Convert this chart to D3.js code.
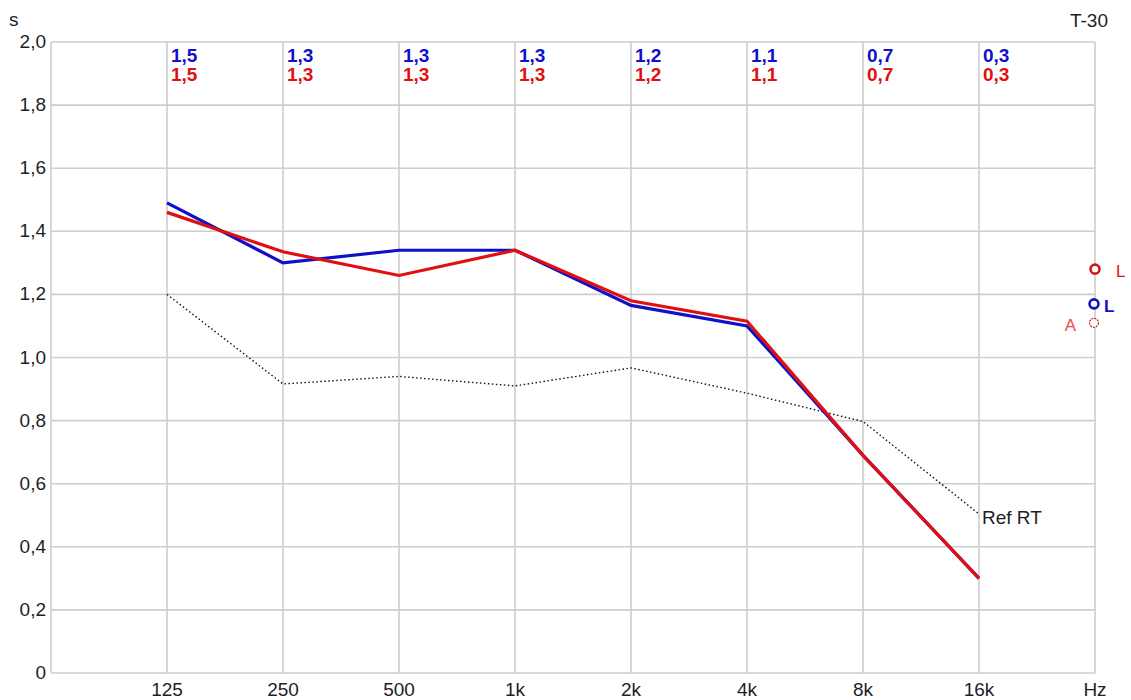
<!DOCTYPE html>
<html>
<head>
<meta charset="utf-8">
<script src="https://cdn.jsdelivr.net/npm/d3@7"></script>
<style>
  html, body { margin: 0; padding: 0; background: #fff; }
  svg { display: block; font-family: "Liberation Sans", Arial, sans-serif; }
</style>
</head>
<body>
<svg id="chart" width="1131" height="700"></svg>
<script>
// Octave bands (first and last slots are the frame edges)
const bands = ["63", "125", "250", "500", "1k", "2k", "4k", "8k", "16k", "Hz"];
const dataBands = ["125", "250", "500", "1k", "2k", "4k", "8k", "16k"];

// Reverberation time T-30 (s)
const blueValues = [1.49, 1.30, 1.34, 1.34, 1.165, 1.10, 0.69, 0.30];
const redValues  = [1.46, 1.335, 1.26, 1.34, 1.18, 1.115, 0.69, 0.30];
const refValues  = [1.20, 0.916, 0.94, 0.91, 0.967, 0.887, 0.797, 0.504];

// Rounded band labels printed at the top
const blueLabels = ["1,5", "1,3", "1,3", "1,3", "1,2", "1,1", "0,7", "0,3"];
const redLabels  = ["1,5", "1,3", "1,3", "1,3", "1,2", "1,1", "0,7", "0,3"];

// Overall markers on the right edge
const markerValues = [1.28, 1.17, 1.11];
const markerNames  = ["L", "L", "A"];

const yTicks = [0, 0.2, 0.4, 0.6, 0.8, 1.0, 1.2, 1.4, 1.6, 1.8, 2.0];

const svg = d3.select("#chart");
const plotLeft = 51, plotRight = 1095, plotTop = 42, plotBottom = 673;

const x = d3.scalePoint().domain(bands).range([plotLeft, plotRight]);
const y = d3.scaleLinear().domain([0, 2]).range([plotBottom, plotTop]);

const grid = "#cdcdcd";
const blue = "#1010c8";
const red = "#e01010";
const ink = "#1e1e28";

// Horizontal gridlines
svg.append("g").selectAll("line").data(yTicks).join("line")
  .attr("x1", plotLeft).attr("x2", plotRight)
  .attr("y1", d => y(d)).attr("y2", d => y(d))
  .attr("stroke", grid).attr("stroke-width", 1.6);

// Vertical gridlines
svg.append("g").selectAll("line").data(bands).join("line")
  .attr("x1", d => x(d)).attr("x2", d => x(d))
  .attr("y1", plotTop).attr("y2", plotBottom)
  .attr("stroke", grid).attr("stroke-width", 1.6);

// Y axis labels
const fmt = d => d === 0 ? "0" : d3.format(".1f")(d).replace(".", ",");
svg.append("g").selectAll("text").data(yTicks).join("text")
  .attr("x", plotLeft - 5).attr("y", d => y(d) + 6)
  .attr("text-anchor", "end").attr("font-size", 19).attr("fill", ink)
  .text(fmt);

// X axis labels
svg.append("g").selectAll("text").data(bands.slice(1)).join("text")
  .attr("x", d => x(d)).attr("y", 696)
  .attr("text-anchor", "middle").attr("font-size", 19).attr("fill", ink)
  .text(d => d);

svg.append("text").attr("x", 9).attr("y", 26).attr("font-size", 19).attr("fill", ink).text("s");
svg.append("text").attr("x", 1108).attr("y", 27).attr("text-anchor", "end")
  .attr("font-size", 19).attr("fill", ink).text("T-30");

// Reference curve (dotted)
const line = d3.line().x((d, i) => x(dataBands[i])).y(d => y(d));
svg.append("path").datum(refValues)
  .attr("d", line).attr("fill", "none")
  .attr("stroke", "#111").attr("stroke-width", 1.4).attr("stroke-dasharray", "1.5,2.5");
svg.append("text").attr("x", x("16k") + 3).attr("y", y(refValues[7]) + 10)
  .attr("font-size", 19).attr("fill", ink).text("Ref RT");

// Measured curves
svg.append("path").datum(blueValues)
  .attr("d", line).attr("fill", "none")
  .attr("stroke", blue).attr("stroke-width", 3.2);
svg.append("path").datum(redValues)
  .attr("d", line).attr("fill", "none")
  .attr("stroke", red).attr("stroke-width", 3.2);

// Band value labels
svg.append("g").selectAll("text").data(blueLabels).join("text")
  .attr("x", (d, i) => x(dataBands[i]) + 4).attr("y", 62)
  .attr("font-size", 19).attr("font-weight", "bold").attr("fill", blue)
  .text(d => d);
svg.append("g").selectAll("text").data(redLabels).join("text")
  .attr("x", (d, i) => x(dataBands[i]) + 4).attr("y", 81)
  .attr("font-size", 19).attr("font-weight", "bold").attr("fill", red)
  .text(d => d);

// Right-edge markers
const mx = x("Hz");
svg.append("circle").attr("cx", mx).attr("cy", y(markerValues[0])).attr("r", 4.5)
  .attr("fill", "#fff").attr("stroke", "#d01818").attr("stroke-width", 2.6);
svg.append("text").attr("x", mx + 21).attr("y", y(markerValues[0]) + 8)
  .attr("font-size", 17).attr("fill", red).text(markerNames[0]);

svg.append("circle").attr("cx", mx - 1).attr("cy", y(markerValues[1])).attr("r", 4.5)
  .attr("fill", "#fff").attr("stroke", blue).attr("stroke-width", 2.6);
svg.append("text").attr("x", mx + 9).attr("y", y(markerValues[1]) + 8)
  .attr("font-size", 17).attr("font-weight", "bold").attr("fill", blue).text(markerNames[1]);

svg.append("circle").attr("cx", mx - 1).attr("cy", y(markerValues[2])).attr("r", 4.5)
  .attr("fill", "#fff").attr("stroke", "#c03030").attr("stroke-width", 1.3)
  .attr("stroke-dasharray", "2,1");
svg.append("text").attr("x", mx - 19).attr("y", y(markerValues[2]) + 8)
  .attr("text-anchor", "end").attr("font-size", 17).attr("fill", "#f04848").text(markerNames[2]);
</script>
</body>
</html>
